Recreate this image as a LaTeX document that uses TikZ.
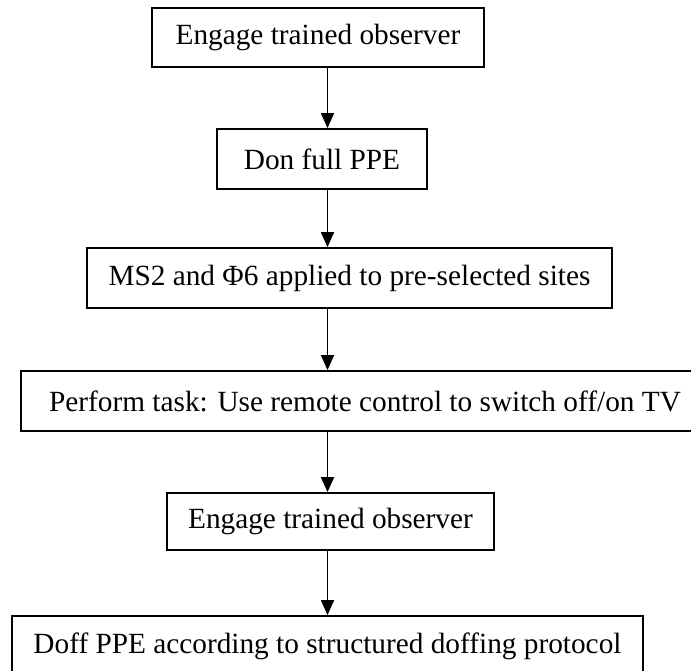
\documentclass[tikz,border=0pt]{standalone}
\usepackage{fontspec}
\setmainfont{Liberation Serif}
\usetikzlibrary{arrows.meta}

\begin{document}
\begin{tikzpicture}[
    x=1pt, y=-1pt,
    >={Triangle[width=13pt, length=15pt]},
    stepbox/.style={rectangle, draw=black, line width=1.8pt, inner sep=0pt, minimum height=60pt, align=center, font=\fontsize{29.3}{34}\selectfont},
    flow/.style={->, line width=1.8pt}
]
    \clip (0,0) rectangle (691,671);

    \node[stepbox, minimum width=332pt, minimum height=59pt] at (318, 37.5) (observer) {Engage trained observer};
    \node[stepbox, minimum width=210pt] at (322, 159) (donppe) {Don full PPE};
    \node[stepbox, minimum width=525pt] at (349.5, 278) (apply) {MS2 and Φ6 applied to pre-selected sites};
    \node[stepbox, minimum width=688pt] at (365, 401) (task) {Perform task: Use remote control to switch off/on TV};
    \node[stepbox, minimum width=327pt, minimum height=57pt] at (330.5, 521.5) (observer2) {Engage trained observer};
    \node[stepbox, minimum width=631pt] at (327.5, 646) (doffppe) {Doff PPE according to structured doffing protocol};

    \coordinate (axis) at (327.5, 0);

    \draw[flow] (observer.south -| axis) -- (donppe.north -| axis);
    \draw[flow] (donppe.south -| axis) -- (apply.north -| axis);
    \draw[flow] (apply.south -| axis) -- (task.north -| axis);
    \draw[flow] (task.south -| axis) -- (observer2.north -| axis);
    \draw[flow] (observer2.south -| axis) -- (doffppe.north -| axis);
\end{tikzpicture}
\end{document}
